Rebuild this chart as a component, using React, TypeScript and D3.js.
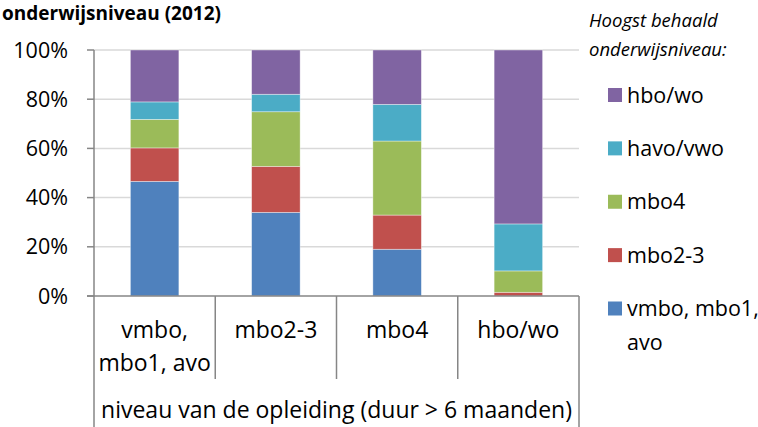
import React from 'react';
import * as d3 from 'd3';

const categories = ['vmbo, mbo1, avo', 'mbo2-3', 'mbo4', 'hbo/wo'];
const categoryLines = [['vmbo,', 'mbo1, avo'], ['mbo2-3'], ['mbo4'], ['hbo/wo']];

const seriesNames = ['vmbo, mbo1, avo', 'mbo2-3', 'mbo4', 'havo/vwo', 'hbo/wo'];
const vmboMbo1Avo = [46.6, 34.0, 19.0, 0];
const mbo23 = [13.6, 18.7, 13.9, 1.5];
const mbo4 = [11.6, 22.2, 30.1, 8.7];
const havoVwo = [7.1, 7.1, 14.9, 19.1];
const hboWo = [21.1, 18.0, 22.1, 70.7];

const yTicks = [0, 20, 40, 60, 80, 100];
const colors = ['#4F81BD', '#C0504D', '#9BBB59', '#4BACC6', '#8064A2'];

const W = 758;
const H = 427;
const font = '"Open Sans", "Noto Sans", sans-serif';

const App = () => {
  const seriesValues = [vmboMbo1Avo, mbo23, mbo4, havoVwo, hboWo];
  const rows = categories.map((c, i) => {
    const r: any = { cat: c };
    seriesNames.forEach((s, j) => (r[s] = seriesValues[j][i]));
    return r;
  });
  const stacked = d3.stack().keys(seriesNames)(rows);

  const x = d3.scaleBand().domain(categories).range([94, 579]);
  const y = d3.scaleLinear().domain([0, 100]).range([296, 50]);
  const barW = x.bandwidth() * 0.4;

  // legend is listed top to bottom in reverse stack order
  const legendKeys = seriesNames.slice().reverse();
  const ly = d3.scalePoint().domain(legendKeys).range([95, 308.5]);

  const axisColor = '#868686';

  return (
    <svg width={W} height={H} style={{ position: 'absolute', left: 0, top: 0, background: '#fff' }}>
      <text x={2} y={20} fontFamily={font} fontWeight="bold" fontSize={19} fill="#000">
        onderwijsniveau (2012)
      </text>

      {/* gridlines */}
      {yTicks.filter(t => t > 0).map(t => (
        <line key={t} x1={94} x2={579} y1={y(t)} y2={y(t)} stroke="#D9D9D9" strokeWidth={1.5} />
      ))}

      {/* bars */}
      {stacked.map((s, si) => (
        <g key={s.key} fill={colors[si]}>
          {s.map((d, i) => (
            d[1] - d[0] > 0 ? (
              <rect
                key={i}
                x={(x(categories[i]) as number) + (x.bandwidth() - barW) / 2}
                y={y(d[1])}
                width={barW}
                height={y(d[0]) - y(d[1])}
                stroke="#fff"
                strokeOpacity={0.5}
                strokeWidth={0.75}
              />
            ) : null
          ))}
        </g>
      ))}

      {/* y axis */}
      <line x1={94} x2={94} y1={y(100)} y2={H} stroke={axisColor} strokeWidth={1.5} />
      {yTicks.map(t => (
        <g key={t}>
          <line x1={87} x2={94} y1={y(t)} y2={y(t)} stroke={axisColor} strokeWidth={1.5} />
          <text x={68} y={y(t)} dy="0.35em" textAnchor="end" fontFamily={font} fontSize={21.5} fill="#000">
            {t}%
          </text>
        </g>
      ))}

      {/* category axis */}
      <line x1={87} x2={579} y1={y(0)} y2={y(0)} stroke={axisColor} strokeWidth={1.5} />
      {categories.map((c, i) => (
        <line key={c} x1={(x(c) as number) + x.bandwidth()} x2={(x(c) as number) + x.bandwidth()}
          y1={y(0)} y2={i === categories.length - 1 ? H : 379} stroke={axisColor} strokeWidth={1.5} />
      ))}
      {categories.map((c, i) => (
        <text key={c} x={(x(c) as number) + x.bandwidth() / 2} y={338} textAnchor="middle"
          fontFamily={font} fontSize={23} fill="#000">
          {categoryLines[i].map((l, k) => (
            <tspan key={k} x={(x(c) as number) + x.bandwidth() / 2} dy={k === 0 ? 0 : 33}>{l}</tspan>
          ))}
        </text>
      ))}
      <text x={(94 + 579) / 2} y={418} textAnchor="middle" fontFamily={font} fontSize={23} fill="#000">
        niveau van de opleiding (duur &gt; 6 maanden)
      </text>

      {/* legend */}
      <text x={589} y={27} fontFamily={font} fontStyle="italic" fontSize={18.5} fill="#000">Hoogst behaald</text>
      <text x={589} y={56} fontFamily={font} fontStyle="italic" fontSize={18.5} fill="#000">onderwijsniveau:</text>
      {legendKeys.map(k => {
        const ci = seriesNames.indexOf(k);
        const cy = ly(k) as number;
        const lines = k === 'vmbo, mbo1, avo' ? ['vmbo, mbo1,', 'avo'] : [k];
        return (
          <g key={k}>
            <rect x={608} y={cy - 7} width={14} height={14} fill={colors[ci]} />
            <text x={627} y={cy} fontFamily={font} fontSize={21.5} fill="#000">
              {lines.map((l, j) => (
                <tspan key={j} x={627} dy={j === 0 ? '0.35em' : 34}>{l}</tspan>
              ))}
            </text>
          </g>
        );
      })}
    </svg>
  );
};

export default App;
